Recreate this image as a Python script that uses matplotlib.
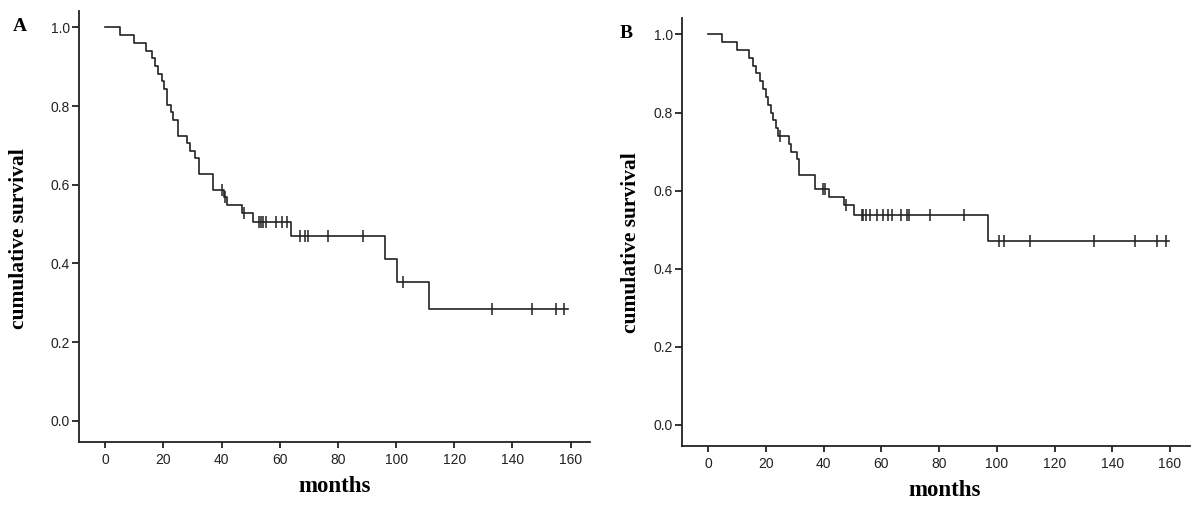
import numpy as np
import matplotlib
matplotlib.use('Agg')
from matplotlib import pyplot as plt

# panel A: event times (months) and survival right after each event
a_times = [5.2, 10.0, 14.1, 16.1, 17.1, 18.0, 19.5, 20.3, 21.1, 22.6, 23.2,
           24.9, 28.0, 29.2, 30.8, 32.1, 36.9, 40.7, 42.0, 46.9, 50.9, 63.7,
           96.2, 100.2, 111.4]
a_surv = [0.980, 0.961, 0.941, 0.922, 0.902, 0.882, 0.863, 0.843, 0.804,
          0.784, 0.765, 0.725, 0.706, 0.686, 0.667, 0.627, 0.588, 0.569,
          0.549, 0.528, 0.505, 0.471, 0.412, 0.354, 0.285]
a_censor = [40.0, 41.2, 47.7, 52.9, 53.7, 54.3, 55.1, 58.8, 60.6, 62.5, 66.8,
            68.8, 69.8, 76.6, 88.6, 102.3, 133.1, 146.8, 154.8, 157.6]
a_end = 159.0

# panel B
b_times = [4.8, 10.0, 14.0, 15.5, 16.6, 17.9, 19.0, 19.9, 20.8, 21.6, 22.4,
           23.6, 24.2, 27.9, 28.8, 30.8, 31.6, 36.9, 41.9, 46.9, 50.6, 96.8]
b_surv = [0.980, 0.960, 0.940, 0.920, 0.900, 0.880, 0.860, 0.840, 0.820,
          0.800, 0.780, 0.760, 0.740, 0.720, 0.700, 0.680, 0.640, 0.605,
          0.584, 0.562, 0.537, 0.470]
b_censor = [25.0, 39.8, 40.6, 47.7, 53.2, 53.7, 54.5, 56.0, 58.6, 60.7, 62.4,
            63.8, 66.7, 68.8, 69.4, 76.7, 88.7, 100.6, 102.5, 111.6, 133.6,
            147.7, 155.6, 158.7]
b_end = 159.8

x_ticks = [0, 20, 40, 60, 80, 100, 120, 140, 160]
y_ticks = [0.0, 0.2, 0.4, 0.6, 0.8, 1.0]

line_col = '#222222'


def km_panel(ax, times, surv, censor, t_end):
    t = np.concatenate([[0.0], times, [t_end]])
    s = np.concatenate([[1.0], surv, [surv[-1]]])
    ax.step(t, s, where='post', color=line_col, lw=1.2)
    idx = np.searchsorted(times, censor, side='right')
    cy = s[idx]
    ax.plot(censor, cy, ls='none', marker='|', ms=8, mew=1.1, color=line_col)

    ax.set_xlim(-9.1, 166.8)
    ax.set_ylim(-0.054, 1.042)
    ax.set_xticks(x_ticks)
    ax.set_yticks(y_ticks)
    ax.set_xticklabels([str(v) for v in x_ticks])
    ax.set_yticklabels(['%.1f' % v for v in y_ticks])
    for side in ['top', 'right']:
        ax.spines[side].set_visible(False)
    for side in ['left', 'bottom']:
        ax.spines[side].set_linewidth(1.3)
        ax.spines[side].set_color('#222222')
    ax.tick_params(axis='x', length=4, width=1.3, pad=4, labelsize=10,
                   colors='#222222')
    ax.tick_params(axis='y', length=5, width=1.3, pad=1.5, labelsize=10,
                   colors='#222222')
    for lab in ax.get_xticklabels() + ax.get_yticklabels():
        lab.set_family('Liberation Sans')


fig = plt.figure(figsize=(12, 5.13), dpi=100)
ax1 = fig.add_axes([0.0657, 0.1384, 0.4263, 0.8402])
ax2 = fig.add_axes([0.5683, 0.1306, 0.4231, 0.8343])

km_panel(ax1, a_times, a_surv, a_censor, a_end)
km_panel(ax2, b_times, b_surv, b_censor, b_end)

serif = 'Liberation Serif'
fig.text(19 / 1200, 1 - 239 / 513, 'cumulative survival', rotation=90,
         ha='center', va='center', family=serif, weight='bold', fontsize=15.5)
fig.text(631 / 1200, 1 - 243 / 513, 'cumulative survival', rotation=90,
         ha='center', va='center', family=serif, weight='bold', fontsize=15.5)
fig.text(335 / 1200, 1 - 486 / 513, 'months', ha='center', va='center',
         family=serif, weight='bold', fontsize=16.5)
fig.text(945 / 1200, 1 - 490 / 513, 'months', ha='center', va='center',
         family=serif, weight='bold', fontsize=16.5)
fig.text(20 / 1200, 1 - 27 / 513, 'A', ha='center', va='center',
         family=serif, weight='bold', fontsize=14)
fig.text(626 / 1200, 1 - 34 / 513, 'B', ha='center', va='center',
         family=serif, weight='bold', fontsize=14)

fig.savefig('out.png', dpi=100)
